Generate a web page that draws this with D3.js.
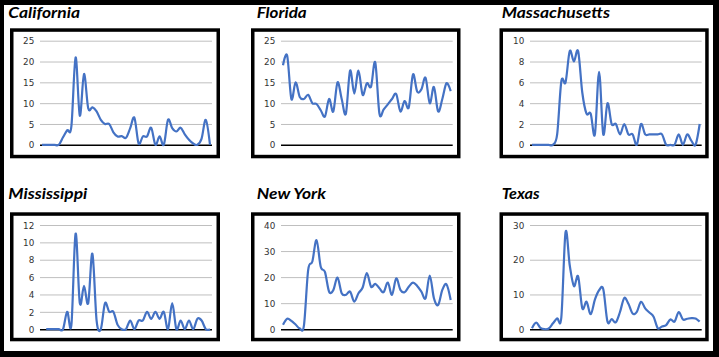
<!DOCTYPE html>
<html><head><meta charset="utf-8">
<script src="https://cdn.jsdelivr.net/npm/d3@7"></script>
<style>html,body{margin:0;padding:0;background:#fff;overflow:hidden}</style>
</head><body>
<svg id="c" width="719" height="357"></svg>
<script>
// ---- data ----
const states = ["California", "Florida", "Massachusetts", "Mississippi", "New York", "Texas"];

const california = [0,0,0,0,0,1.8,3.5,4.5,21,7,17,8.8,9,8,6,5,5,3,2,2.1,1.7,4,6.5,0.3,2,2,4.1,0,2,0,6,4,3.2,4.1,2.5,1.2,0.3,0,1.5,6,0];
const florida = [19.1,21.4,11,15,11.5,11,12,10,9.8,8.3,6.8,11,8,15,11,7.5,17.8,12.3,17.8,12,14.8,14,19.8,7.5,8.5,9.7,11,12.2,8,10.5,9,16.9,12.8,13.3,16.1,10,13.9,8,11,14.8,12.9];
const massachusetts = [0,0,0,0,0,0,1,6.1,6,9,8,9,5,3,3,1,7,1,4,2,2,1,2,1,1,0,2,1,1,1,1,1,0,0,0,1,0,1,0.4,0,2];
const mississippi = [null,0,0,0,0,0,2,0.5,11,3,5,3,8.7,1,0,3,2,2,0.5,0,0,1,0,1,1,2,1.2,2,1.2,2,0,3,0,1,0,1,0,1.2,1,0,0];
const newYork = [1.7,4,3.2,1.8,0.3,1.5,22.7,26,34.2,24,22,14.4,15,19.8,13.8,13.2,14.4,10.6,13.8,16,21.5,16.3,17.4,15.7,14.2,17.9,13.2,19.5,15.1,14.2,16.3,17.9,16.6,14.4,11.9,20.6,11.9,9.3,15.1,17.2,11.2];
const texas = [0.3,1.9,0.4,0,0.2,1.7,3.1,3.5,27.9,18.4,12.4,15.2,6,7.9,4.3,8.5,11.2,11.5,2.2,2.9,2,5,9,7.3,4.5,5,7.9,6,4.8,3.6,0.3,0.8,1.2,2.8,2.2,4.9,2.8,3,3.2,3.1,2.2];

const ticksCalifornia = [0, 5, 10, 15, 20, 25];
const ticksFlorida = [0, 5, 10, 15, 20, 25];
const ticksMassachusetts = [0, 2, 4, 6, 8, 10];
const ticksMississippi = [0, 2, 4, 6, 8, 10, 12];
const ticksNewYork = [0, 10, 20, 30, 40];
const ticksTexas = [0, 10, 20, 30];

const seriesList = [california, florida, massachusetts, mississippi, newYork, texas];
const tickList = [ticksCalifornia, ticksFlorida, ticksMassachusetts, ticksMississippi, ticksNewYork, ticksTexas];

// ---- layout ----
const cols = [
  {box: [10, 220], grid: [40, 212], title: 8.3},
  {box: [251, 460.5], grid: [281, 452.7], title: 256.7},
  {box: [499.5, 708.7], grid: [530, 701.7], title: 501.7}
];
const rows = [
  {box: [28.3, 158.3], plot: [40.7, 144.8], title: 17.8},
  {box: [212.3, 341.3], plot: [225, 329.2], title: 198.8}
];
const titleWidths = [71.7, 50, 108.3, 79, 69.3, 38];

const svg = d3.select("#c");
svg.append("rect").attr("width", 719).attr("height", 357).attr("fill", "#fff");

states.forEach((name, k) => {
  const c = cols[k % 3], r = rows[Math.floor(k / 3)];
  const g = svg.append("g");
  const sw = 3.5;
  g.append("rect")
    .attr("x", c.box[0] + sw / 2).attr("y", r.box[0] + sw / 2)
    .attr("width", c.box[1] - c.box[0] - sw).attr("height", r.box[1] - r.box[0] - sw)
    .attr("fill", "#fff").attr("stroke", "#000").attr("stroke-width", sw);

  g.append("text")
    .attr("x", c.title).attr("y", r.title)
    .attr("font-family", "Lato, 'Open Sans', sans-serif")
    .attr("font-weight", 700).attr("font-style", "italic")
    .attr("font-size", 16).attr("fill", "#000")
    .attr("textLength", titleWidths[k]).attr("lengthAdjust", "spacingAndGlyphs")
    .text(name);

  const ticks = tickList[k];
  const data = seriesList[k];
  const y = d3.scaleLinear().domain([0, d3.max(ticks)]).range([r.plot[1], r.plot[0]]);
  const x = d3.scaleLinear().domain([0, data.length - 1]).range([c.grid[0] + 2, c.grid[1] - 2]);

  const ax = g.append("g").attr("transform", `translate(${c.grid[0]},0)`)
    .call(d3.axisLeft(y).tickValues(ticks).tickSize(-(c.grid[1] - c.grid[0])).tickPadding(5.7).tickFormat(d3.format("d")));
  ax.select(".domain").remove();
  ax.selectAll(".tick line")
    .attr("stroke", d => d === 0 ? "#000" : "#bfbfbf")
    .attr("stroke-width", d => d === 0 ? 1.6 : 1);
  ax.selectAll(".tick text")
    .attr("font-family", "'DejaVu Sans', Verdana, sans-serif")
    .attr("font-size", 8.8).attr("fill", "#333").attr("dy", "0.36em");

  const line = d3.line()
    .defined(d => d != null)
    .x((d, i) => x(i)).y(d => y(d))
    .curve(d3.curveCatmullRom.alpha(0));
  g.append("path").datum(data)
    .attr("d", line).attr("fill", "none")
    .attr("stroke", "#4472c4").attr("stroke-width", 2.2)
    .attr("stroke-linejoin", "round");
});

// outer frame
svg.append("rect").attr("x", 0).attr("y", 0).attr("width", 719).attr("height", 5).attr("fill", "#000");
svg.append("rect").attr("x", 0).attr("y", 0).attr("width", 4).attr("height", 357).attr("fill", "#000");
svg.append("rect").attr("x", 713).attr("y", 0).attr("width", 6).attr("height", 357).attr("fill", "#000");
svg.append("rect").attr("x", 0).attr("y", 351).attr("width", 719).attr("height", 6).attr("fill", "#000");
</script>
</body></html>
